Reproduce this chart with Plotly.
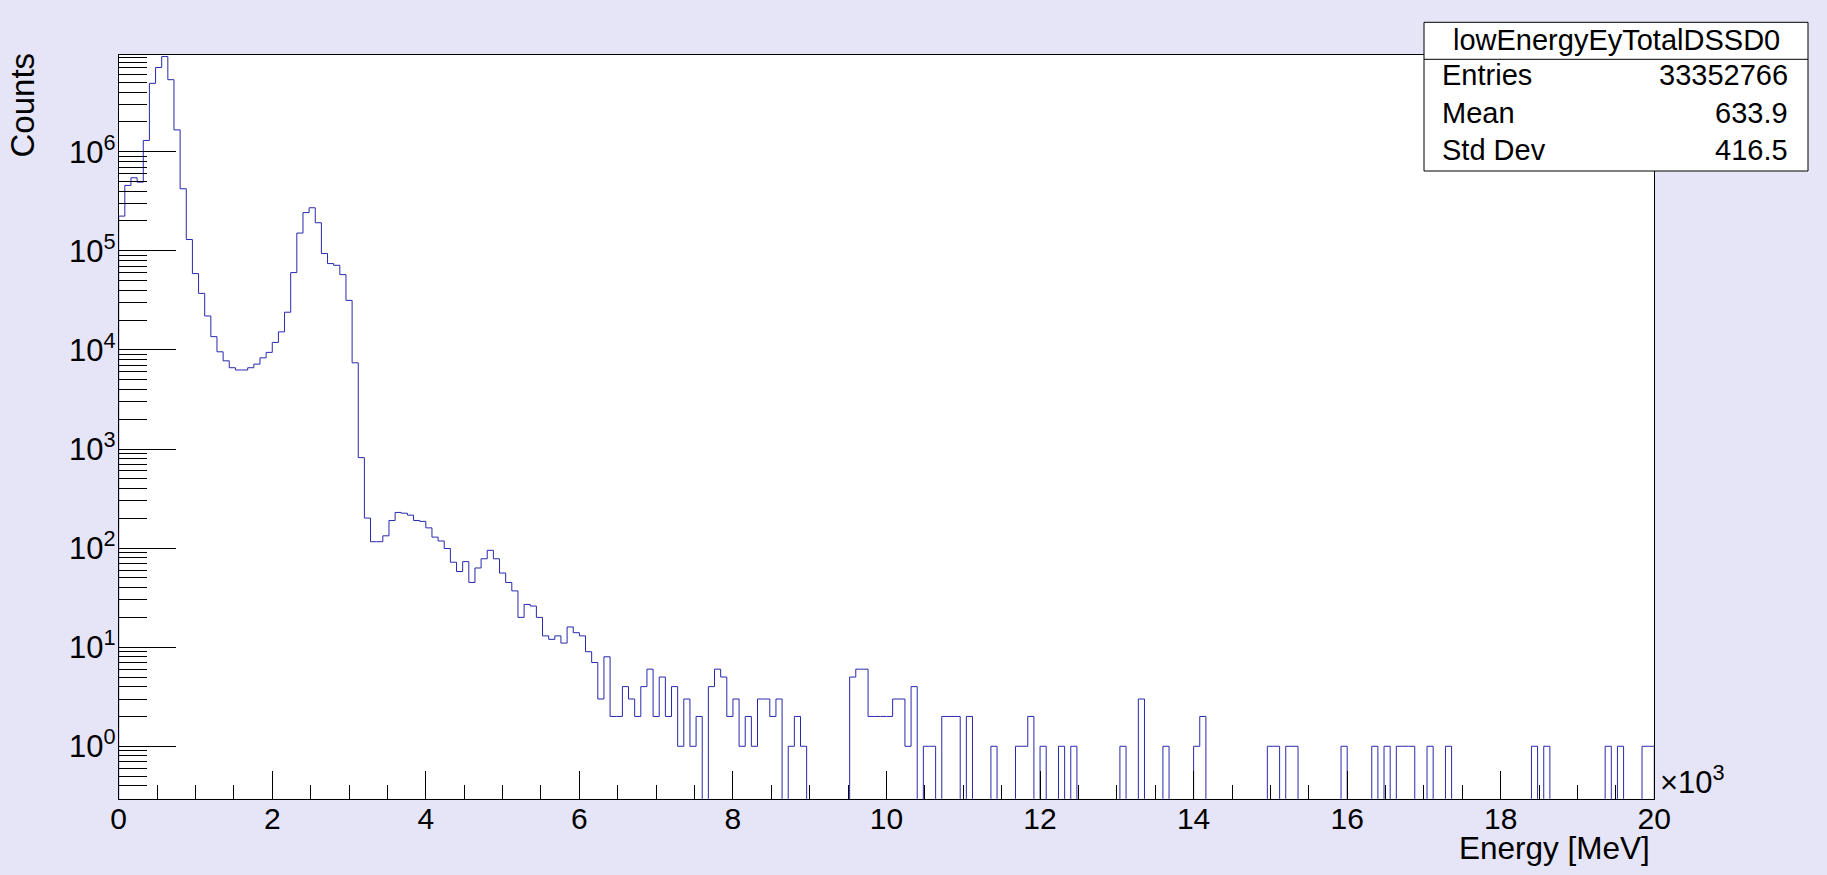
import numpy as np
import plotly.graph_objects as go

W, H = 1827, 875

# ---------------- data ----------------
hist_name = "lowEnergyEyTotalDSSD0"
x_title = "Energy [MeV]"
y_title = "Counts"
x_min, x_max, n_bins = 0, 20000, 250

counts = [
    224000, 457000, 546000, 493000, 1300000, 4900000, 7080000, 9120000, 5330000, 1660000,
    423000, 130000, 58900, 37200, 22000, 13600, 9570, 7760, 6610, 6270,
    6270, 6610, 7190, 8320, 9440, 11900, 15200, 24000, 60300, 151000,
    243000, 272000, 192000, 93800, 74300, 71400, 57500, 31600, 7410, 818,
    201, 116, 116, 133, 190, 229, 225, 215, 190, 186,
    160, 129, 118, 99, 72, 58, 73, 45, 63, 78,
    95, 78, 56, 45, 37, 20, 27, 26, 20, 13,
    12, 13, 11, 16, 14, 13, 9, 7, 3, 8,
    2, 2, 4, 3, 2, 4, 6, 2, 5, 2,
    4, 1, 3, 1, 2, 0, 4, 6, 5, 2,
    3, 1, 2, 1, 3, 3, 2, 3, 0, 1,
    2, 1, 0, 0, 0, 0, 0, 0, 0, 5,
    6, 6, 2, 2, 2, 2, 3, 3, 1, 4,
    0, 1, 1, 0, 2, 2, 2, 0, 2, 0,
    0, 0, 1, 0, 0, 0, 1, 1, 2, 0,
    1, 0, 0, 1, 0, 1, 0, 0, 0, 0,
    0, 0, 0, 1, 0, 0, 3, 0, 0, 0,
    1, 0, 0, 0, 0, 1, 2, 0, 0, 0,
    0, 0, 0, 0, 0, 0, 0, 1, 1, 0,
    1, 1, 0, 0, 0, 0, 0, 0, 0, 1,
    0, 0, 0, 0, 1, 0, 1, 0, 1, 1,
    1, 0, 0, 1, 0, 0, 1, 0, 0, 0,
    0, 0, 0, 0, 0, 0, 0, 0, 0, 0,
    1, 0, 1, 0, 0, 0, 0, 0, 0, 0,
    0, 0, 1, 0, 1, 0, 0, 0, 1, 1,
]

x_tick_vals = [0, 2000, 4000, 6000, 8000, 10000, 12000, 14000, 16000, 18000, 20000]
x_tick_text = ["0", "2", "4", "6", "8", "10", "12", "14", "16", "18", "20"]
y_tick_exps = [0, 1, 2, 3, 4, 5, 6]

stat_labels = ["Entries", "Mean", "Std Dev"]
stat_values = ["33352766", "633.9", "416.5"]

# ---------------- styling ----------------
BG = "rgb(229,229,247)"
LINE = "rgb(40,40,175)"
FONT = "Liberation Sans"

def px(x):
    return x / W

def py(y):
    return 1 - y / H

left, right, top, bottom = 118.7, 1654.3, 55.0, 798.7

edges = np.linspace(x_min, x_max, n_bins + 1)
c = np.array(counts, dtype=float)
floor = 1e-2
cplot = np.where(c > 0, c, floor)
xs = np.concatenate([[edges[0]], edges[:-1], [edges[-1]], [edges[-1]]])
ys = np.concatenate([[floor], cplot, [cplot[-1]], [floor]])

fig = go.Figure()
fig.add_trace(go.Scatter(
    x=xs, y=ys, mode="lines", line=dict(shape="hv", color=LINE, width=1),
    hoverinfo="skip", showlegend=False,
))

y_tick_vals = [10.0 ** e for e in y_tick_exps]
y_tick_text = ["10<sup>%d</sup>" % e for e in y_tick_exps]
y_minor = [k * 10.0 ** e for e in range(-1, 7) for k in range(2, 10)]
x_minor = list(np.arange(x_min, x_max + 1, 500))

fig.update_layout(
    template="none",
    width=W, height=H, autosize=False,
    margin=dict(l=0, r=0, t=0, b=0, pad=0, autoexpand=False),
    paper_bgcolor=BG, plot_bgcolor="white",
    font=dict(family=FONT, color="black", size=29),
    xaxis=dict(
        domain=[px(left), px(right)], range=[x_min, x_max], automargin=False,
        showgrid=False, zeroline=False, showline=True, linecolor="black", linewidth=1,
        mirror=True, ticks="inside", ticklen=28, tickwidth=1, tickcolor="black",
        tickmode="array", tickvals=x_tick_vals, ticktext=x_tick_text,
        tickfont=dict(size=30, family=FONT), ticklabelstandoff=-7,
        minor=dict(ticks="inside", ticklen=14, tickwidth=1, tickcolor="black",
                   tickmode="array", tickvals=x_minor, showgrid=False),
    ),
    yaxis=dict(
        type="log", domain=[py(bottom), py(top)], range=[-0.529, 6.976], automargin=False,
        showgrid=False, zeroline=False, showline=True, linecolor="black", linewidth=1,
        mirror=True, ticks="inside", ticklen=57, tickwidth=1, tickcolor="black",
        tickmode="array", tickvals=y_tick_vals, ticktext=y_tick_text,
        tickfont=dict(size=31, family=FONT), ticklabelstandoff=-4,
        minor=dict(ticks="inside", ticklen=28, tickwidth=1, tickcolor="black",
                   tickmode="array", tickvals=y_minor, showgrid=False),
    ),
)

# stats box
bx0, bx1, by0, by1, bhead = 1424, 1808, 22.3, 171, 59.3
fig.add_shape(type="rect", xref="paper", yref="paper",
              x0=px(bx0), x1=px(bx1), y0=py(by1), y1=py(by0),
              line=dict(color="black", width=1), fillcolor="white", layer="above")
fig.add_shape(type="line", xref="paper", yref="paper",
              x0=px(bx0), x1=px(bx1), y0=py(bhead), y1=py(bhead),
              line=dict(color="black", width=1), layer="above")

ann = []
ann.append(dict(text=hist_name, x=px((bx0 + bx1) / 2), y=py(40.5), xanchor="center",
                yanchor="middle", font=dict(size=29)))
row_y = [75.2, 113.5, 150.2]
for lab, val, yy in zip(stat_labels, stat_values, row_y):
    ann.append(dict(text=lab, x=px(1440), y=py(yy), xanchor="left", yanchor="middle",
                    font=dict(size=29)))
    ann.append(dict(text=val, x=px(1789.5), y=py(yy), xanchor="right", yanchor="middle",
                    font=dict(size=29)))

ann.append(dict(text=x_title, x=px(1652), y=py(848), xanchor="right", yanchor="middle",
                font=dict(size=31.5)))
ann.append(dict(text=y_title, x=px(22), y=py(105.5), xanchor="center", yanchor="middle",
                textangle=-90, font=dict(size=33)))
ann.append(dict(text="\u00d710<sup>3</sup>", x=px(1658), y=py(780), xanchor="left",
                yanchor="middle", font=dict(size=31)))

for a in ann:
    a.update(xref="paper", yref="paper", showarrow=False)
fig.update_layout(annotations=ann)

fig.write_html(
    "out.html",
    config={"displayModeBar": False},
    post_script="document.body.style.margin='0';document.body.style.overflow='hidden';",
)
